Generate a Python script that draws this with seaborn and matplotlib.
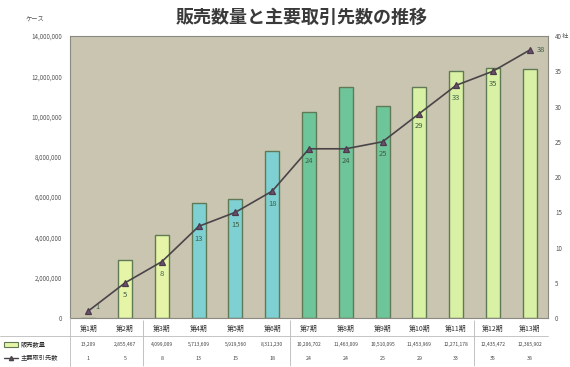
import matplotlib
matplotlib.use("Agg")
import matplotlib.pyplot as plt
from matplotlib.lines import Line2D
from matplotlib.patches import Patch
import seaborn as sns
import numpy as np

# data
periods = [f"第{i}期" for i in range(1, 14)]
sales = [13209, 2855467, 4099009, 5713609, 5919560, 8311230, 10206702,
         11463009, 10510095, 11453969, 12271178, 12435472, 12365902]
sales_labels = ["13,209", "2,855,467", "4,099,009", "5,713,609", "5,919,560",
                "8,311,230", "10,206,702", "11,463,009", "10,510,095",
                "11,453,969", "12,271,178", "12,435,472", "12,365,902"]
clients = [1, 5, 8, 13, 15, 18, 24, 24, 25, 29, 33, 35, 38]
bar_colors = ["#e6f4a8", "#e6f4a8", "#e6f4a8",
              "#7fd0d2", "#7fd0d2", "#7fd0d2",
              "#6fc59a", "#6fc59a", "#6fc59a",
              "#d9f1a4", "#d9f1a4", "#d9f1a4", "#d9f1a4"]
left_ticks = list(range(0, 14000001, 2000000))
right_ticks = list(range(0, 41, 5))

sns.set_theme(style="white")
plt.rcParams['font.family'] = ['Noto Sans CJK JP', 'DejaVu Sans']

fig = plt.figure(figsize=(5.7, 3.67), dpi=100)
ax = fig.add_axes([0.1228, 0.1335, 0.8386, 0.7684])
ax.set_facecolor("#c9c5b1")

sns.barplot(x=periods, y=sales, hue=periods, palette=bar_colors, legend=False,
            width=0.38, edgecolor="#5f7a55", linewidth=1.0, saturation=1, ax=ax)
ax.set_ylim(0, 14000000)
ax.set_xlim(-0.5, 12.5)
ax.set_yticks(left_ticks)
ax.set_yticklabels([f"{v:,}" for v in left_ticks], fontsize=4.5, color="#555555")
ax.tick_params(axis='x', labelsize=5, colors="#333333", pad=5, length=0)
ax.tick_params(axis='y', length=0, pad=6)
for s in ax.spines.values():
    s.set_color("#8a8a80")
    s.set_linewidth(0.8)

ax2 = ax.twinx()
sns.pointplot(x=periods, y=clients, color="#4a4448", markers="^", markersize=4,
              linewidth=1.2, ax=ax2)
for line in ax2.lines:
    line.set_markerfacecolor("#6b4f6e")
    line.set_markeredgecolor("#4a3a4a")
ax2.set_ylim(0, 40)
ax2.set_xlim(-0.5, 12.5)
ax2.set_yticks(right_ticks)
ax2.set_yticklabels([str(v) for v in right_ticks], fontsize=4.5, color="#555555")
ax2.tick_params(axis='y', length=0, pad=5)
ax2.set_ylabel("")
ax2.grid(False)
for s in ax2.spines.values():
    s.set_visible(False)

# point labels
for i, v in enumerate(clients):
    if i == len(clients) - 1:
        off, ha = (5, 0), "left"
    elif i == 0:
        off, ha = (5, 3), "left"
    else:
        off, ha = (0, -9), "center"
    ax2.annotate(str(v), (i, v), xytext=off, textcoords="offset points",
                 fontsize=5.5, color="#3f5f45", va="center", ha=ha)

# data table beneath the chart
for i, (lab, c) in enumerate(zip(sales_labels, clients)):
    ax.annotate(lab, (i, 0), xycoords=("data", "axes fraction"), xytext=(0, -19),
                textcoords="offset points", fontsize=3.6, color="#444444",
                ha="center", va="center")
    ax.annotate(str(c), (i, 0), xycoords=("data", "axes fraction"), xytext=(0, -29),
                textcoords="offset points", fontsize=3.8, color="#444444",
                ha="center", va="center")
for i in [1.5, 5.5, 10.5]:
    ax.annotate("", (i, 0), xycoords=("data", "axes fraction"), xytext=(i, -0.18),
                textcoords=("data", "axes fraction"),
                arrowprops=dict(arrowstyle="-", color="#b8b8b8", lw=0.6))

fig.add_artist(Line2D([0.0, 0.962], [1 - 336 / 367] * 2, color="#bcbcbc", lw=0.6))
fig.add_artist(Line2D([0.1228, 0.1228], [0.0, 0.1335], color="#bcbcbc", lw=0.6))

handles = [Patch(facecolor="#e6f4a8", edgecolor="#5f7a55", lw=0.8),
           Line2D([], [], color="#4a4448", marker="^", markersize=3,
                  markerfacecolor="#6b4f6e", lw=1)]
fig.legend(handles, ["販売数量", "主要取引先数"], loc="upper left",
           bbox_to_anchor=(0.0, 1 - 336 / 367), fontsize=4.5, frameon=False,
           handlelength=2.2, handleheight=0.8, labelspacing=0.9,
           borderaxespad=0.3, handletextpad=0.4)

fig.text(0.53, 0.952, "販売数量と主要取引先数の推移", fontsize=13, fontweight="bold",
         color="#3a3a3a", ha="center", va="center")
fig.text(0.062, 0.945, "ケース", fontsize=4.5, color="#555555", ha="center")
fig.text(0.997, 0.903, "社", fontsize=4.5, color="#555555", ha="right", va="center")

fig.savefig("out.png", dpi=100)
